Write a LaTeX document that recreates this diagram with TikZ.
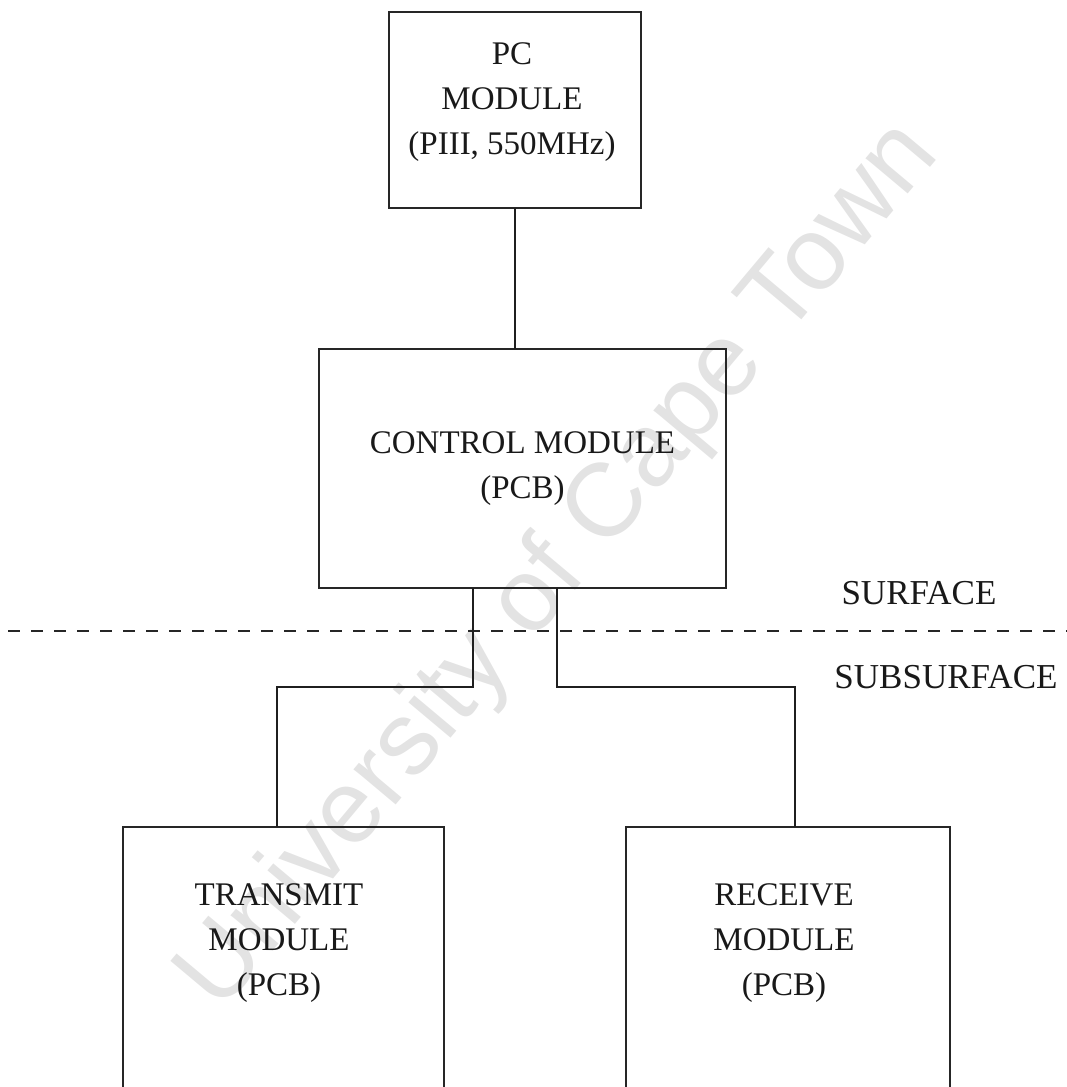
\documentclass[tikz,border=0pt]{standalone}
\usepackage{fontspec}
\setmainfont{Liberation Serif}
\newfontfamily\wmfont{Liberation Sans}
\begin{document}
\begin{tikzpicture}[x=1pt,y=-1pt,
  wire/.style={draw=black!88, line width=2.1pt},
  modbox/.style={draw=black!85, line width=2.1pt, rectangle, inner sep=0pt, outer sep=0pt},
  modtext/.style={align=center, font=\fontsize{33}{45}\selectfont, text=black!90, inner sep=0pt},
  levellabel/.style={font=\fontsize{35}{40}\selectfont, text=black!90, inner sep=0pt},
  levelline/.style={draw=black!85, line width=1.9pt, dash pattern=on 12pt off 11pt}
]
\useasboundingbox (0,0) rectangle (1067,1087);
\clip (0,0) rectangle (1067,1087);

% watermark
\node[rotate=50, text=black!11, font=\wmfont\fontsize{104}{104}\selectfont] (wm) at (560,567) {University of Cape Town};

% modules
\node[modbox, minimum width=252pt, minimum height=196pt, anchor=north] (pc) at (515,12) {};
\node[modtext] (pctext) at (512,102) {PC\\MODULE\\(PIII, 550MHz)};
\node[modbox, modtext, minimum width=407pt, minimum height=239pt, anchor=north] (ctl) at (522.5,349) {CONTROL MODULE\\(PCB)};
\node[modbox, minimum width=321pt, minimum height=400pt, anchor=north] (tx) at (283.5,827) {};
\node[modtext] (txtext) at (279,943) {TRANSMIT\\MODULE\\(PCB)};
\node[modbox, minimum width=324pt, minimum height=400pt, anchor=north] (rx) at (788,827) {};
\node[modtext] (rxtext) at (784,943) {RECEIVE\\MODULE\\(PCB)};

% surface boundary
\coordinate (lineL) at (8,631);
\coordinate (lineR) at (1067,631);
\draw[levelline] (lineL) -- (lineR);
\node[levellabel] (surf) at (919,593) {SURFACE};
\node[levellabel] (subsurf) at (946,677) {SUBSURFACE};

% connections
\draw[wire] (pc.south) -- (pc.south |- ctl.north);
\coordinate (busy) at (0,687);
\coordinate (ctlL) at ([xshift=-49.5pt]ctl.south);
\coordinate (ctlR) at ([xshift=34.5pt]ctl.south);
\draw[wire] (ctlL) -- (ctlL |- busy) -| ([xshift=-6.5pt]tx.north);
\draw[wire] (ctlR) -- (ctlR |- busy) -| ([xshift=7pt]rx.north);
\end{tikzpicture}
\end{document}
